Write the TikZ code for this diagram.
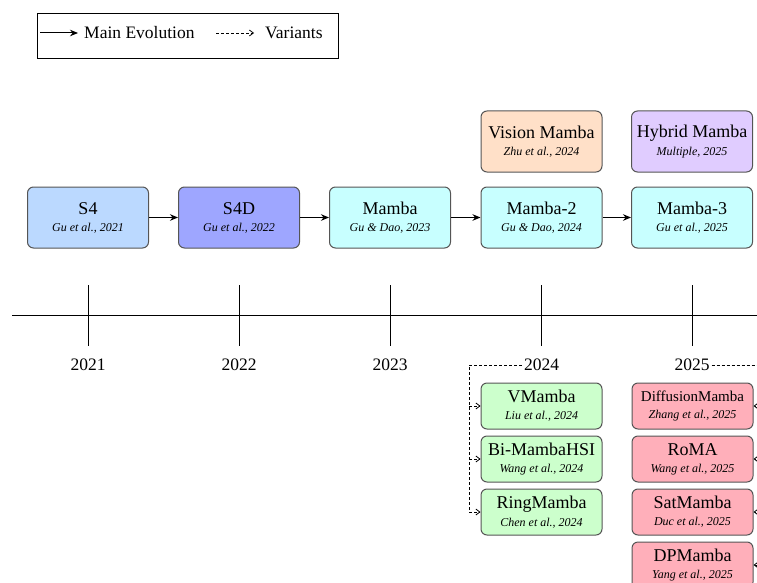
\documentclass[tikz,border=0pt]{standalone}
\usepackage{fontspec}
\setmainfont{Liberation Serif}
\usetikzlibrary{arrows.meta,calc}
\definecolor{cS4}{HTML}{BBD9FF}
\definecolor{cS4D}{HTML}{9EA6FF}
\definecolor{cMamba}{HTML}{C8FFFF}
\definecolor{cVision}{HTML}{FFE0C8}
\definecolor{cHybrid}{HTML}{E0CCFF}
\definecolor{cGreen}{HTML}{CCFFCC}
\definecolor{cRed}{HTML}{FFAFBA}
\definecolor{cBorder}{HTML}{555555}
\newcommand{\ttl}[1]{{\fontsize{18}{19}\selectfont #1}}
\newcommand{\sml}[1]{{\fontsize{15}{17}\selectfont #1}}
\newcommand{\sub}[1]{{\fontsize{12}{13}\selectfont\itshape #1}}
\tikzset{
  bigbox/.style={draw=cBorder, line width=1pt, rounded corners=6pt, minimum width=121pt, minimum height=61pt, align=center, inner sep=0pt},
  smallbox/.style={draw=cBorder, line width=1pt, rounded corners=6pt, minimum width=121pt, minimum height=46pt, align=center, inner sep=0pt},
  mainarrow/.style={-{Stealth[length=8pt,width=6.5pt]}, line width=1pt, black},
  varline/.style={densely dashed, line width=0.8pt, black},
  vartip/.style={-{Straight Barb[length=4pt,width=6pt]}},
  yearlbl/.style={font=\fontsize{17.5}{19}\selectfont, inner sep=2pt},
  tick/.style={line width=0.8pt, black}
}
\begin{document}
\begin{tikzpicture}[x=1pt,y=-1pt]
\useasboundingbox (0,0) rectangle (757,583);
\clip (0,0) rectangle (757,583);
% legend
\node[draw=black, line width=1pt, minimum width=301pt, minimum height=45pt, anchor=north west, inner sep=0pt] (legend) at (37,13) {};
\coordinate (la1) at (40,33);
\coordinate (la2) at (78,33);
\node[anchor=west, inner sep=0pt, font=\fontsize{17.5}{19}\selectfont] (lmain) at (84,33) {Main Evolution};
\coordinate (lb1) at (216,33);
\coordinate (lb2) at (254,33);
\node[anchor=west, inner sep=0pt, font=\fontsize{17.5}{19}\selectfont] (lvar) at (265,33) {Variants};
\draw[mainarrow] (la1) -- (la2);
\draw[varline, vartip] (lb1) -- (lb2);
% main boxes
\node[bigbox, fill=cS4] (s4) at (88,217.5) {\ttl{S4}\\[5pt]\sub{Gu et al., 2021}};
\node[bigbox, fill=cS4D] (s4d) at (239,217.5) {\ttl{S4D}\\[5pt]\sub{Gu et al., 2022}};
\node[bigbox, fill=cMamba] (mamba) at (390,217.5) {\ttl{Mamba}\\[5pt]\sub{Gu \& Dao, 2023}};
\node[bigbox, fill=cMamba] (mamba2) at (541.5,217.5) {\ttl{Mamba-2}\\[5pt]\sub{Gu \& Dao, 2024}};
\node[bigbox, fill=cMamba] (mamba3) at (692,217.5) {\ttl{Mamba-3}\\[5pt]\sub{Gu et al., 2025}};
\node[bigbox, fill=cVision] (vision) at (541.5,141.5) {\ttl{Vision Mamba}\\[5pt]\sub{Zhu et al., 2024}};
\node[bigbox, fill=cHybrid] (hybrid) at (692,141.5) {\ttl{Hybrid Mamba}\\[5pt]\sub{Multiple, 2025}};
\draw[mainarrow] (s4) -- (s4d);
\draw[mainarrow] (s4d) -- (mamba);
\draw[mainarrow] (mamba) -- (mamba2);
\draw[mainarrow] (mamba2) -- (mamba3);
% timeline
\coordinate (tl1) at (12,315);
\coordinate (tl2) at (760,315);
\draw[line width=1pt] (tl1) -- (tl2);
\foreach \x/\n in {88/t21,239/t22,390/t23,541.5/t24,692/t25}{
  \coordinate (\n a) at (\x,285);
  \coordinate (\n b) at (\x,346);
  \draw[tick] (\n a) -- (\n b);
}
\node[yearlbl] (y21) at (88,365) {2021};
\node[yearlbl] (y22) at (239,365) {2022};
\node[yearlbl] (y23) at (390,365) {2023};
\node[yearlbl] (y24) at (541.5,365) {2024};
\node[yearlbl] (y25) at (692,365) {2025};
% 2024 variants
\node[smallbox, fill=cGreen] (vm) at (541.5,406) {\ttl{VMamba}\\[5pt]\sub{Liu et al., 2024}};
\node[smallbox, fill=cGreen] (bi) at (541.5,459) {\ttl{Bi-MambaHSI}\\[5pt]\sub{Wang et al., 2024}};
\node[smallbox, fill=cGreen] (ring) at (541.5,512) {\ttl{RingMamba}\\[5pt]\sub{Chen et al., 2024}};
\coordinate (c24) at (469,365);
\draw[varline, vartip] (y24.west) -- (c24) |- (ring.west);
\draw[varline, vartip] (c24 |- vm.west) -- (vm.west);
\draw[varline, vartip] (c24 |- bi.west) -- (bi.west);
% 2025 variants
\node[smallbox, fill=cRed] (diff) at (692.5,406) {\sml{DiffusionMamba}\\[5pt]\sub{Zhang et al., 2025}};
\node[smallbox, fill=cRed] (roma) at (692.5,459) {\ttl{RoMA}\\[5pt]\sub{Wang et al., 2025}};
\node[smallbox, fill=cRed] (sat) at (692.5,512) {\ttl{SatMamba}\\[5pt]\sub{Duc et al., 2025}};
\node[smallbox, fill=cRed] (dp) at (692.5,565) {\ttl{DPMamba}\\[5pt]\sub{Yang et al., 2025}};
\coordinate (c25) at (770,365);
\draw[varline, vartip] (y25.east) -- (c25) |- (dp.east);
\draw[varline, vartip] (c25 |- diff.east) -- (diff.east);
\draw[varline, vartip] (c25 |- roma.east) -- (roma.east);
\draw[varline, vartip] (c25 |- sat.east) -- (sat.east);
\end{tikzpicture}
\end{document}
